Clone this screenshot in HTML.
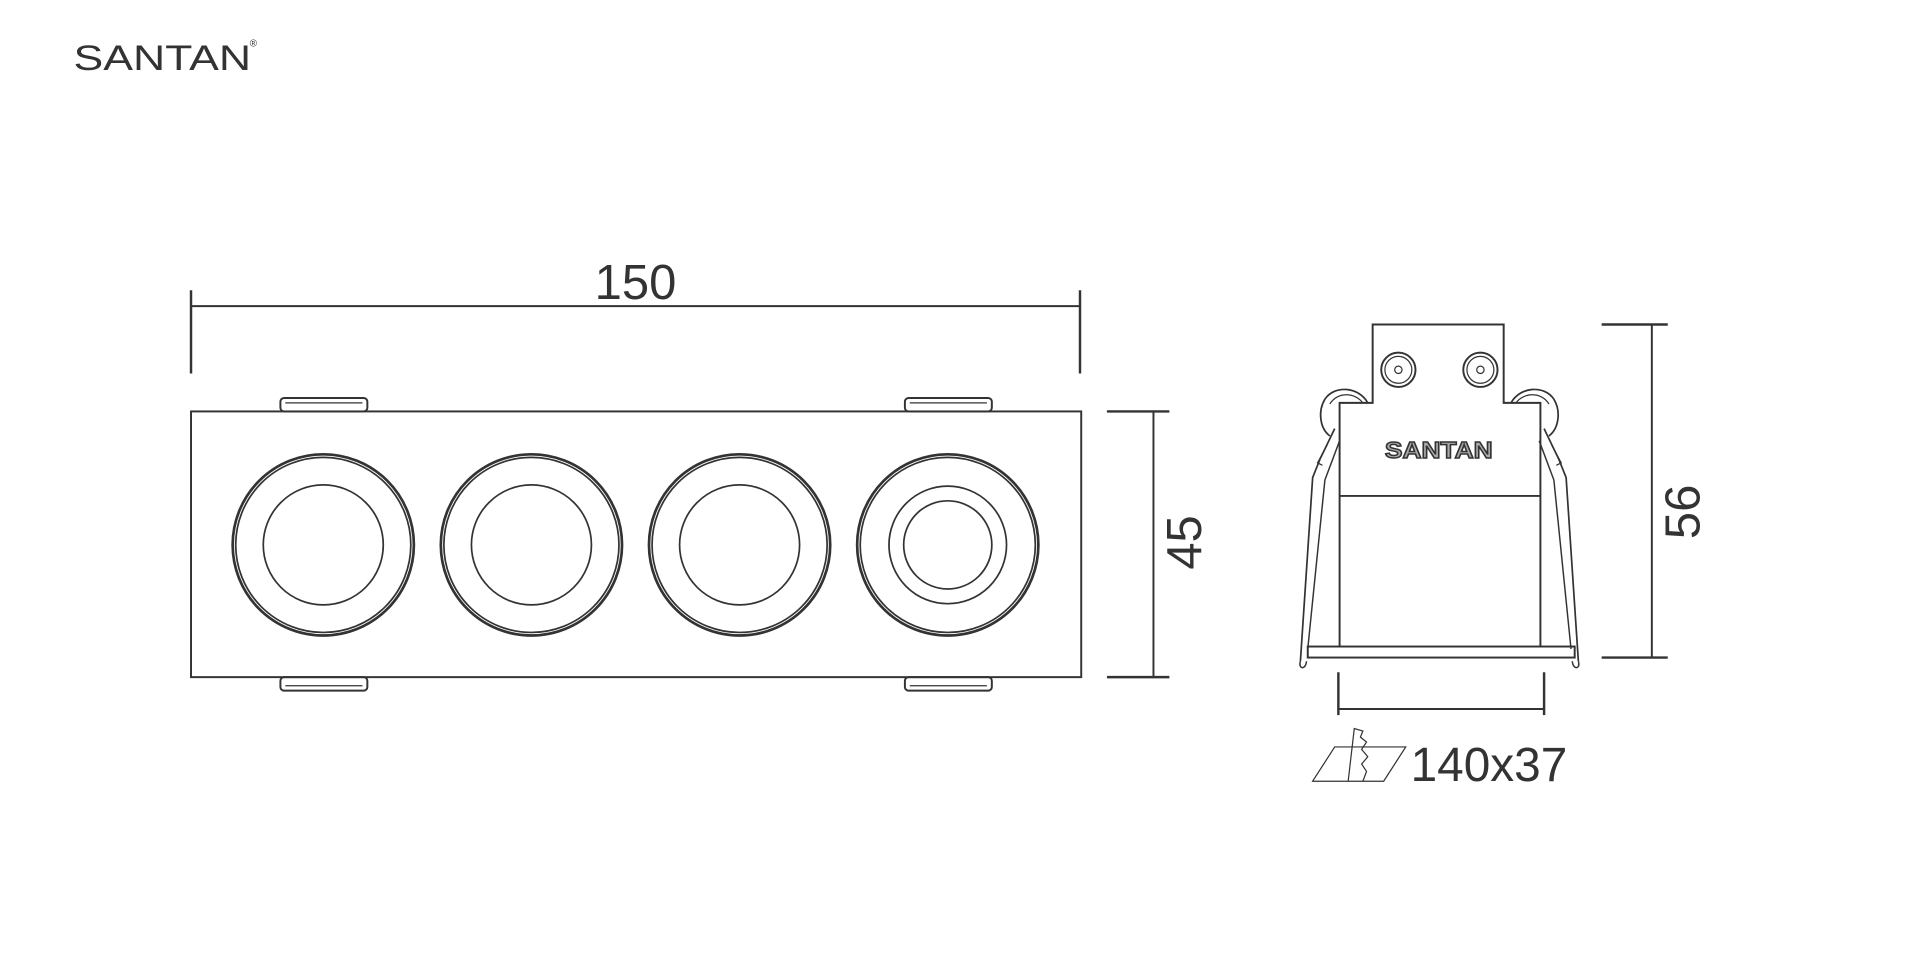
<!DOCTYPE html>
<html><head><meta charset="utf-8"><style>
html,body{margin:0;padding:0;background:#fff;width:1920px;height:960px;overflow:hidden}
svg{display:block}
text{font-family:"Liberation Sans",sans-serif;fill:#333}
</style></head><body>
<svg width="1920" height="960" viewBox="0 0 1568 784" xmlns="http://www.w3.org/2000/svg">
<g fill="none" stroke="#333" stroke-width="1.6">
<line x1="156" y1="250" x2="882" y2="250"/>
<line x1="156" y1="237" x2="156" y2="305" stroke-width="2"/>
<line x1="882" y1="237" x2="882" y2="305" stroke-width="2"/>
<rect x="156" y="336" width="727" height="217"/>
<rect x="229" y="325" width="71" height="11" rx="3"/><line x1="233" y1="329" x2="296" y2="329" stroke-width="1"/>
<rect x="739" y="325" width="71" height="11" rx="3"/><line x1="743" y1="329" x2="806" y2="329" stroke-width="1"/>
<rect x="229" y="553" width="71" height="11" rx="3"/><line x1="233" y1="560" x2="296" y2="560" stroke-width="1"/>
<rect x="739" y="553" width="71" height="11" rx="3"/><line x1="743" y1="560" x2="806" y2="560" stroke-width="1"/>
<g stroke-width="2.2">
<circle cx="264" cy="445" r="74"/><circle cx="264" cy="445" r="71.5" stroke-width="1.4"/><circle cx="264" cy="445" r="49" stroke-width="1.4"/>
<circle cx="434" cy="445" r="74"/><circle cx="434" cy="445" r="71.5" stroke-width="1.4"/><circle cx="434" cy="445" r="49" stroke-width="1.4"/>
<circle cx="604" cy="445" r="74"/><circle cx="604" cy="445" r="71.5" stroke-width="1.4"/><circle cx="604" cy="445" r="49" stroke-width="1.4"/>
<circle cx="774" cy="445" r="74"/><circle cx="774" cy="445" r="71.5" stroke-width="1.4"/><circle cx="774" cy="445" r="48" stroke-width="1.4"/><circle cx="774" cy="445" r="36" stroke-width="1.4"/>
</g>
<line x1="942" y1="336" x2="942" y2="553"/>
<line x1="904" y1="336" x2="955" y2="336" stroke-width="2"/>
<line x1="904" y1="553" x2="955" y2="553" stroke-width="2"/>
<path d="M1094 528 V329 H1121 V265 H1228 V329 H1258 V528"/>
<line x1="1094" y1="405" x2="1258" y2="405"/>
<rect x="1068" y="528" width="218" height="9"/>
<circle cx="1142" cy="302" r="14"/><circle cx="1142" cy="302" r="11" stroke-width="1"/><circle cx="1142" cy="302" r="3" stroke-width="1"/>
<circle cx="1209" cy="302" r="14"/><circle cx="1209" cy="302" r="11" stroke-width="1"/><circle cx="1209" cy="302" r="3" stroke-width="1"/>
<path d="M1117 329 C1110 316 1090 314 1082 326 C1076 336 1078 350 1086 356" stroke-width="1.4"/>
<path d="M1113 329 C1106 320 1092 320 1086 330" stroke-width="1"/>
<path d="M1090 350 L1078 375 L1072 390 L1062 540" stroke-width="1.4"/>
<path d="M1094 360 L1082 392 L1068 530" stroke-width="1.2"/>
<path d="M1084 363 L1076 378 L1080 380" stroke-width="1"/>
<path d="M1062 540 C1060 546 1066 548 1067 540" stroke-width="1.2"/>
<path d="M1234 329 C1241 316 1261 314 1269 326 C1275 336 1273 350 1265 356" stroke-width="1.4"/>
<path d="M1238 329 C1245 320 1259 320 1265 330" stroke-width="1"/>
<path d="M1261 350 L1273 375 L1279 390 L1289 540" stroke-width="1.4"/>
<path d="M1257 360 L1269 392 L1283 530" stroke-width="1.2"/>
<path d="M1267 363 L1275 378 L1271 380" stroke-width="1"/>
<path d="M1289 540 C1291 546 1285 548 1284 540" stroke-width="1.2"/>
<line x1="1349" y1="265" x2="1349" y2="537"/>
<line x1="1308" y1="265" x2="1362" y2="265" stroke-width="2"/>
<line x1="1308" y1="537" x2="1362" y2="537" stroke-width="2"/>
<line x1="1093" y1="579" x2="1261" y2="579"/>
<line x1="1093" y1="549" x2="1093" y2="584" stroke-width="2"/>
<line x1="1261" y1="549" x2="1261" y2="584" stroke-width="2"/>
<path d="M1072 638 L1090 610 H1148 L1130 638 Z" stroke-width="1"/>
<path d="M1101 638 L1106 595 L1113 597 L1111 602 L1116 606 L1112 612 L1117 618 L1112 624 L1116 630 L1113 638" stroke-width="1"/>
</g>
<text x="60" y="57" font-size="29" textLength="145" lengthAdjust="spacingAndGlyphs">SANTAN</text>
<text x="204" y="38" font-size="8">®</text>
<text x="519" y="244" font-size="40" text-anchor="middle">150</text>
<text transform="translate(981,443) rotate(-90)" font-size="40" text-anchor="middle">45</text>
<text transform="translate(1388,418) rotate(-90)" font-size="40" text-anchor="middle">56</text>
<text x="1131" y="374" font-size="19" font-weight="bold" textLength="88" lengthAdjust="spacingAndGlyphs" style="fill:#aaa;stroke:#333;stroke-width:1.2">SANTAN</text>
<text x="1152" y="638" font-size="39">140x37</text>
</svg>
</body></html>
